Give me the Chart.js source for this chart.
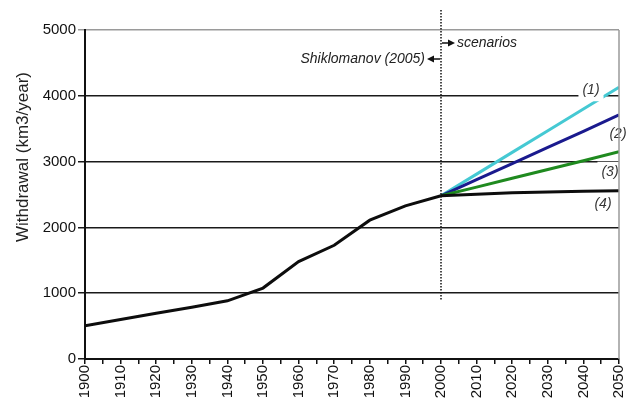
<!DOCTYPE html>
<html>
<head>
<meta charset="utf-8">
<script src="https://cdn.jsdelivr.net/npm/chart.js@4.4.1/dist/chart.umd.min.js"></script>
<style>
  html, body { margin: 0; padding: 0; background: #fff; }
  #wrap { width: 639px; height: 409px; }
</style>
</head>
<body>
<div id="wrap"><canvas id="c" width="639" height="409"></canvas></div>
<script>
// Historical global water withdrawal, km3/year
const histYears = [1900, 1910, 1920, 1930, 1940, 1950, 1960, 1970, 1980, 1990, 2000];
const histValues = [505, 600, 694, 788, 884, 1078, 1480, 1728, 2110, 2328, 2480];

// Projections from 2000 to 2050
const scenYears = [2000, 2010, 2020, 2030, 2040, 2050];
const scenario1 = [2480, 2810, 3140, 3470, 3800, 4130];
const scenario2 = [2480, 2725, 2970, 3215, 3460, 3710];
const scenario3 = [2480, 2612, 2746, 2880, 3014, 3150];
const scenario4 = [2480, 2505, 2525, 2537, 2548, 2558];

const scenarioLabels = ['(1)', '(2)', '(3)', '(4)'];
const yTicks = [0, 1000, 2000, 3000, 4000, 5000];
const axisTitle = 'Withdrawal (km3/year)';
const pastNote = 'Shiklomanov (2005)';
const futureNote = 'scenarios';
const splitYear = 2000;

const FONT = '"Liberation Sans", Arial, Helvetica, sans-serif';

function pts(xs, ys) { return xs.map((x, i) => ({ x: x, y: ys[i] })); }

function lineSet(data, color) {
  return {
    data: data,
    borderColor: color,
    backgroundColor: color,
    borderWidth: 3,
    pointRadius: 0,
    tension: 0,
    fill: false
  };
}

// Labels (1)-(4) sit on white patches near the right edge
const labelPlugin = {
  id: 'scenarioNotes',
  afterDatasetsDraw(chart) {
    const ctx = chart.ctx;
    const xs = chart.scales.x, ys = chart.scales.y;
    const area = chart.chartArea;
    ctx.save();

    // scenario labels, placed relative to each line's 2050 value
    const ends = [scenario1, scenario2, scenario3, scenario4].map(s => s[s.length - 1]);
    const offs = [[-28, 3], [-1, 19], [-9, 20], [-16, 13.5]];
    ctx.font = 'italic 14px ' + FONT;
    ctx.textAlign = 'center';
    ctx.textBaseline = 'middle';
    scenarioLabels.forEach((t, i) => {
      const px = area.right + offs[i][0];
      const py = ys.getPixelForValue(ends[i]) + offs[i][1];
      const w = ctx.measureText(t).width;
      ctx.fillStyle = '#fff';
      ctx.fillRect(px - w / 2 - 4, py - 10, w + 8, 21);
      ctx.fillStyle = '#333';
      ctx.fillText(t, px, py);
    });

    // grey frame on the right
    ctx.strokeStyle = '#9a9a9a';
    ctx.lineWidth = 1.5;
    ctx.beginPath();
    ctx.moveTo(area.right, area.top);
    ctx.lineTo(area.right, area.bottom);
    ctx.stroke();

    // dotted divider between observed data and scenarios
    const dx = xs.getPixelForValue(splitYear);
    ctx.strokeStyle = '#111';
    ctx.lineWidth = 1.5;
    ctx.setLineDash([1.5, 1.5]);
    ctx.beginPath();
    ctx.moveTo(dx, area.top - 20);
    ctx.lineTo(dx, ys.getPixelForValue(900));
    ctx.stroke();
    ctx.setLineDash([]);

    // arrows + notes
    ctx.fillStyle = '#111';
    ctx.strokeStyle = '#111';
    ctx.lineWidth = 1.5;
    const yF = area.top + 13, yP = area.top + 29;
    ctx.beginPath();
    ctx.moveTo(dx + 1, yF); ctx.lineTo(dx + 8, yF); ctx.stroke();
    ctx.beginPath();
    ctx.moveTo(dx + 14, yF); ctx.lineTo(dx + 7, yF - 3.5); ctx.lineTo(dx + 7, yF + 3.5); ctx.closePath(); ctx.fill();
    ctx.beginPath();
    ctx.moveTo(dx - 1, yP); ctx.lineTo(dx - 8, yP); ctx.stroke();
    ctx.beginPath();
    ctx.moveTo(dx - 14, yP); ctx.lineTo(dx - 7, yP - 3.5); ctx.lineTo(dx - 7, yP + 3.5); ctx.closePath(); ctx.fill();

    ctx.font = 'italic 14px ' + FONT;
    ctx.fillStyle = '#222';
    ctx.textBaseline = 'middle';
    ctx.textAlign = 'left';
    ctx.fillText(futureNote, dx + 16, yF);
    ctx.textAlign = 'right';
    ctx.fillText(pastNote, dx - 16, yP);

    // vertical axis title
    ctx.translate(23, 157);
    ctx.rotate(-Math.PI / 2);
    ctx.font = '17px ' + FONT;
    ctx.fillStyle = '#222';
    ctx.textAlign = 'center';
    ctx.textBaseline = 'middle';
    ctx.fillText(axisTitle, 0, 0);
    ctx.restore();
  }
};

new Chart(document.getElementById('c'), {
  type: 'line',
  data: {
    datasets: [
      lineSet(pts(histYears, histValues), '#0d0d0d'),
      lineSet(pts(scenYears, scenario4), '#0d0d0d'),
      lineSet(pts(scenYears, scenario3), '#1f8a1f'),
      lineSet(pts(scenYears, scenario2), '#1a1a8e'),
      lineSet(pts(scenYears, scenario1), '#45c9d3')
    ]
  },
  options: {
    responsive: false,
    animation: false,
    events: [],
    layout: { padding: { top: 30, right: 20, left: 0, bottom: 0 } },
    plugins: { legend: { display: false }, tooltip: { enabled: false }, title: { display: false } },
    scales: {
      x: {
        type: 'linear',
        min: 1900,
        max: 2050,
        afterFit(s) { s.height = 50; },
        border: { display: true, color: '#111', width: 2 },
        grid: { drawOnChartArea: false, drawTicks: true, tickLength: 5, color: '#111', lineWidth: 1.5 },
        ticks: {
          stepSize: 5,
          autoSkip: false,
          maxRotation: 90,
          minRotation: 90,
          padding: 1,
          color: '#111',
          font: { family: FONT, size: 15 },
          callback: v => (v % 10 === 0 ? String(v) : '')
        }
      },
      y: {
        min: 0,
        max: 5000,
        afterFit(s) { s.width = 85; },
        afterBuildTicks(s) { s.ticks = yTicks.map(v => ({ value: v })); },
        border: { display: true, color: '#111', width: 2 },
        grid: {
          drawTicks: true,
          tickLength: 7,
          lineWidth: 1.5,
          color: c => (c.tick && c.tick.value === 5000 ? '#9a9a9a' : '#1a1a1a')
        },
        ticks: {
          padding: 2,
          color: '#111',
          font: { family: FONT, size: 15 },
          callback: v => String(v)
        }
      }
    }
  },
  plugins: [labelPlugin]
});
</script>
</body>
</html>
